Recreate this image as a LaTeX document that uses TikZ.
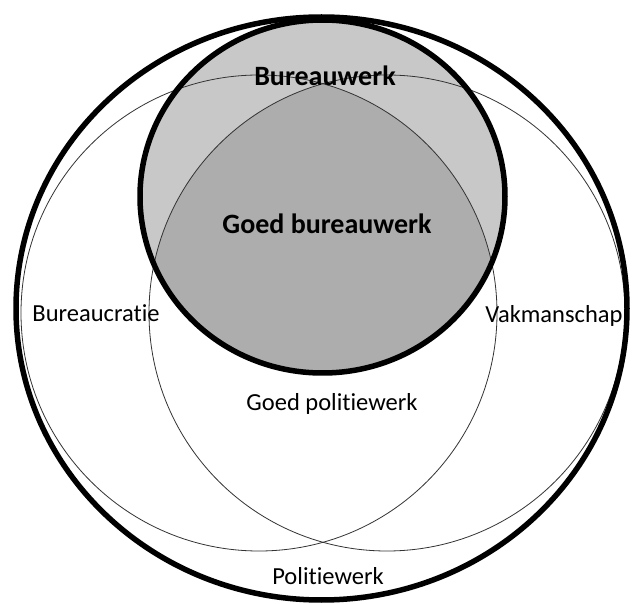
\documentclass[tikz,border=0pt]{standalone}
\usepackage{fontspec}
\setmainfont{Carlito}[Ligatures=NoCommon]
\begin{document}
\begin{tikzpicture}[x=1pt,y=-1pt,
  lbl/.style={inner sep=0pt,font=\fontsize{24.5}{28}\selectfont},
  blbl/.style={inner sep=0pt,font=\fontsize{28}{32}\selectfont\bfseries},
  thick ring/.style={draw=black,line width=5.5pt},
  thin ring/.style={draw=black!80,line width=0.8pt}]
\definecolor{lightgrey}{HTML}{C8C8C8}
\definecolor{darkgrey}{HTML}{ADADAD}
\useasboundingbox (0,0) rectangle (633,604);
\fill[white] (0,0) rectangle (633,604);
% named centres
\coordinate (outerc) at (321.5,308.5);
\coordinate (greyc) at (322.5,196.5);
\coordinate (leftc) at (259,313);
\coordinate (rightc) at (387,313);
% grey ellipse fill
\fill[lightgrey] (greyc) ellipse [x radius=182.5pt, y radius=176.5pt];
% intersection of all three
\begin{scope}
  \clip (greyc) ellipse [x radius=182.5pt, y radius=176.5pt];
  \clip (leftc) circle [radius=238pt];
  \clip (rightc) circle [radius=238pt];
  \fill[darkgrey] (0,0) rectangle (633,604);
\end{scope}
% thin circles
\draw[thin ring] (leftc) circle [radius=238pt];
\draw[thin ring] (rightc) circle [radius=238pt];
% thick rings
\draw[thick ring] (greyc) ellipse [x radius=182.5pt, y radius=176.5pt];
\draw[thick ring] (outerc) ellipse [x radius=305.5pt, y radius=291.5pt];
% labels
\node[blbl] (bw) at (325,76) {Bureauwerk};
\node[blbl] (gbw) at (327,224) {Goed bureauwerk};
\node[lbl] (bc) at (96,313) {Bureaucratie};
\node[lbl] (vm) at (554,316) {Vakmanschap};
\node[lbl] (gpw) at (332,404) {Goed politiewerk};
\node[lbl] (pw) at (328,576) {Politiewerk};
\end{tikzpicture}
\end{document}
